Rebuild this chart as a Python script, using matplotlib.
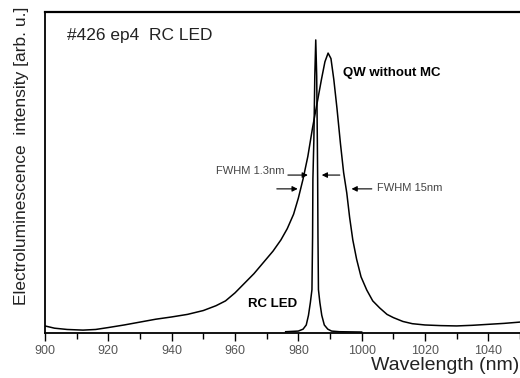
import matplotlib
matplotlib.use("Agg")
import matplotlib.pyplot as plt
from matplotlib.ticker import MultipleLocator

plt.rcParams['font.family'] = ['Liberation Sans', 'DejaVu Sans']

# QW without microcavity (arb. units, 0..1 of axis height)
qw_nm = [900, 903, 907, 912, 916, 920, 925, 930, 935, 940, 945, 950, 954, 957,
         960, 963, 966, 969, 972, 974.5, 976.5, 978.5, 980, 981.5, 983, 984.5,
         986, 987.3, 988.4, 989.4, 990.3, 991.2, 992.2, 993.3, 994.3, 995.3,
         996.2, 997.2, 998.4, 999.8, 1001.6, 1003.5, 1005.7, 1008, 1010, 1013,
         1016, 1020, 1025, 1030, 1035, 1040, 1045, 1050]
qw_int = [0.022, 0.015, 0.011, 0.009, 0.011, 0.017, 0.025, 0.034, 0.043, 0.050,
          0.058, 0.070, 0.085, 0.100, 0.125, 0.155, 0.185, 0.220, 0.255, 0.290,
          0.325, 0.370, 0.420, 0.480, 0.550, 0.640, 0.720, 0.790, 0.845, 0.872,
          0.855, 0.790, 0.700, 0.590, 0.500, 0.436, 0.360, 0.290, 0.230, 0.175,
          0.134, 0.100, 0.078, 0.058, 0.048, 0.036, 0.029, 0.025, 0.023, 0.022,
          0.024, 0.027, 0.030, 0.034]

# RC LED
rc_nm = [976, 978, 980, 981.5, 982.5, 983.2, 983.8, 984.3, 984.5, 984.6, 984.9,
         985.2, 985.5, 985.8, 986.0, 986.1, 986.2, 986.35, 986.8, 987.4, 988.2,
         989.3, 990.5, 993, 1000]
rc_int = [0.004, 0.005, 0.006, 0.012, 0.025, 0.055, 0.095, 0.135, 0.30, 0.48,
          0.60, 0.80, 0.913, 0.80, 0.60, 0.48, 0.30, 0.135, 0.095, 0.055, 0.025,
          0.012, 0.006, 0.004, 0.003]

fig = plt.figure(figsize=(5.2, 3.78), dpi=100)
ax = fig.add_axes([45 / 520, 45 / 378, 1 - 45 / 520, 321 / 378])

ax.plot(qw_nm, qw_int, color='black', lw=1.1)
ax.plot(rc_nm, rc_int, color='black', lw=1.1)

ax.set_xlim(900, 1050)
ax.set_ylim(0, 1)
ax.xaxis.set_major_locator(MultipleLocator(20))
ax.xaxis.set_minor_locator(MultipleLocator(10))
ax.tick_params(axis='x', which='major', direction='out', length=6, width=1,
               labelsize=9, labelcolor='#555555', pad=3)
ax.tick_params(axis='x', which='minor', direction='out', length=4, width=1)
ax.set_yticks([])
ax.spines['right'].set_visible(False)
ax.spines['top'].set_linewidth(1.6)
ax.spines['left'].set_linewidth(1.3)
ax.spines['bottom'].set_linewidth(1.3)

fig.text(0.998, 1 - 366 / 378, 'Wavelength (nm)', ha='right', va='center',
         fontsize=14, color='#222222')
fig.text(22 / 520, 1 - 156 / 378, 'Electroluminescence  intensity [arb. u.]',
         rotation=90, ha='center', va='center', fontsize=12.5, color='#222222',
         family=['Liberation Sans Narrow', 'Liberation Sans', 'DejaVu Sans'])

ax.text(906.9, 0.928, '#426 ep4  RC LED', ha='left', va='center', fontsize=12.5,
        color='#222222')
ax.text(994.0, 0.81, 'QW without MC', ha='left', va='center', fontsize=9.5,
        fontweight='bold')
ax.text(964.0, 0.09, 'RC LED', ha='left', va='center', fontsize=9.5,
        fontweight='bold')
ax.text(975.7, 0.505, 'FWHM 1.3nm', ha='right', va='center', fontsize=8,
        color='#444444')
ax.text(1004.7, 0.452, 'FWHM 15nm', ha='left', va='center', fontsize=8,
        color='#444444')

arrow = dict(arrowstyle='-|>', color='black', lw=0.8, mutation_scale=8,
             shrinkA=0, shrinkB=0)
ax.annotate('', xy=(983.0, 0.492), xytext=(976.7, 0.492), arrowprops=arrow)
ax.annotate('', xy=(987.4, 0.492), xytext=(993.1, 0.492), arrowprops=arrow)
ax.annotate('', xy=(979.8, 0.449), xytext=(973.2, 0.449), arrowprops=arrow)
ax.annotate('', xy=(996.8, 0.449), xytext=(1003.2, 0.449), arrowprops=arrow)

fig.savefig('out.png', dpi=100)
